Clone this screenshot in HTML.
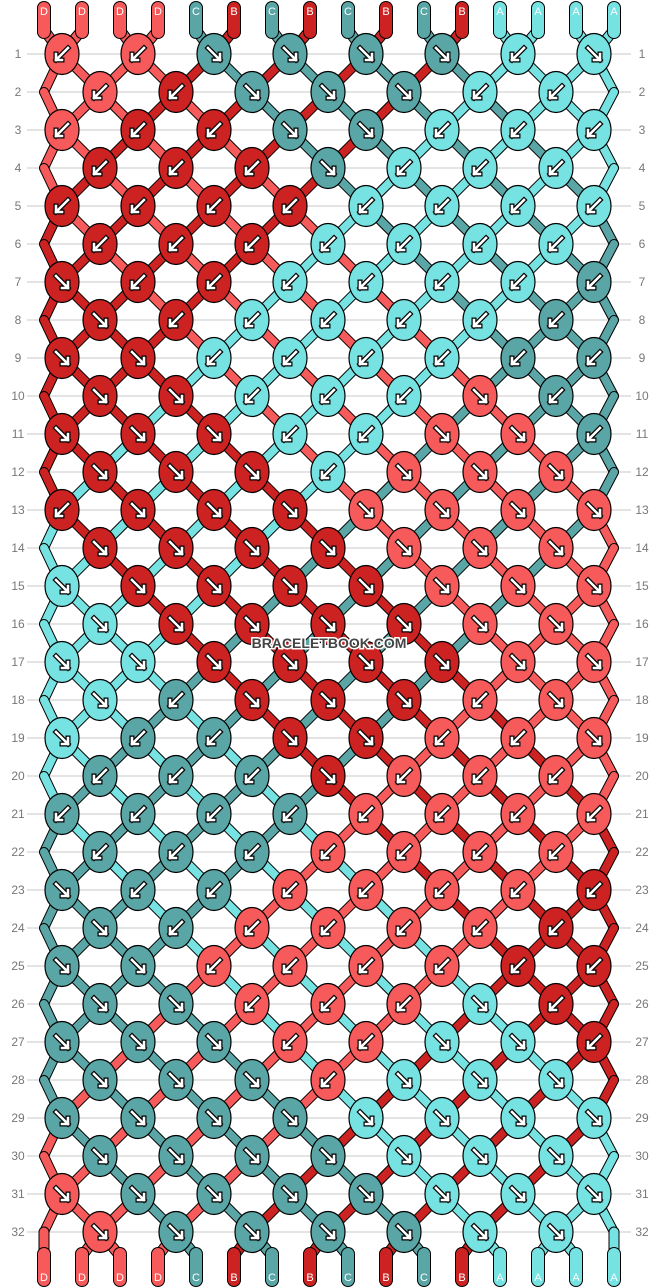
<!DOCTYPE html>
<html><head><meta charset="utf-8"><style>
body{margin:0;background:#fff;}
svg{display:block;font-family:"Liberation Sans",sans-serif;}
</style></head><body>
<svg id="chart" width="658" height="1288" viewBox="0 0 658 1288"></svg>
<script>
const initialStrings = "DDDDCBCBCBCBAAAA";
const knotColors = ["DDCCCCAA","DBCCCAA","DBBCCAAA","BBBCAAA","BBBBAAAA","BBBAAAA","BBBAAAAC","BBAAAAC",
"BBAAAACC","BBAAADC","BBBAADDC","BBBADDD","BBBBDDDD","BBBBDDD","ABBBBDDD","ABBBBDD",
"AABBBBDD","ACBBBDD","ACCBBDDD","CCCBDDD","CCCCDDDD","CCCDDDD","CCCDDDDB","CCDDDDB",
"CCDDDDBB","CCDDDAB","CCCDDAAB","CCCDAAA","CCCCAAAA","CCCCAAA","DCCCCAAA","DCCCCAA"];
const knotDirs = ["LLRRRRLR","LLRRRLL","LLLRRLLL","LLLRLLL","LLLLLLLL","LLLLLLL","RLLLLLLL","RLLLLLL",
"RRLLLLLL","RRLLLRL","RRRLLRRL","RRRLRRR","LRRRRRRR","RRRRRRR","RRRRRRRR","RRRRRRR",
"RRRRRRRR","RLRRRLR","RLLRRLLR","LLLRLLL","LLLLLLLL","LLLLLLL","RLLLLLLL","RLLLLLL",
"RRLLLLLL","RRLLLRL","RRRLLRRL","RRRLRRR","RRRRRRRR","RRRRRRR","RRRRRRRR","RRRRRRR"];
const rowLabels = knotColors.map((_,i)=>String(i+1));

const COL={D:"#f75a5a",B:"#cc2222",C:"#5aa5a5",A:"#77e2e2"};
const NS="http://www.w3.org/2000/svg";
const svg=document.getElementById("chart");
const rowY=r=>54+r*38;
const labelX=s=>44+s*38;
function strX(r,s){
  if(r%2===0) return 62+76*Math.floor(s/2);
  if(s===0) return 44; if(s===15) return 614;
  return 100+76*Math.floor((s-1)/2);
}
function el(tag,attrs,parent){const e=document.createElementNS(NS,tag);for(const k in attrs)e.setAttribute(k,attrs[k]);(parent||svg).appendChild(e);return e;}

const gGrid=el("g",{});


rowLabels.forEach((lab,r)=>{
  const y=rowY(r);
  el("line",{x1:27,x2:631,y1:y,y2:y,stroke:"#c8c8c8","stroke-width":1},gGrid);
  const t1=el("text",{x:18,y:y+4,"text-anchor":"middle","font-size":12,fill:"#777"},gGrid);t1.textContent=lab;
  
  
  const t2=el("text",{x:642,y:y+4,"text-anchor":"middle","font-size":12,fill:"#777"},gGrid);t2.textContent=lab;
  
  
});

const states=[initialStrings.split("")];
for(let r=0;r<knotColors.length;r++){
  const s=states[r].slice();
  const n=knotColors[r].length;
  for(let k=0;k<n;k++){const a=(r%2===0)?2*k:2*k+1;const t=s[a];s[a]=s[a+1];s[a+1]=t;}
  states.push(s);
}
const gStr=el("g",{"stroke-linecap":"round","stroke-linejoin":"round",fill:"none"});


function seg(x1,y1,x2,y2,c,w){
  w=w||8;
  el("line",{x1,y1,x2,y2,stroke:"#000","stroke-width":w+2},gStr);
  el("line",{x1,y1,x2,y2,stroke:COL[c],"stroke-width":w},gStr);
}
const R=knotColors.length;
for(let s=0;s<16;s++){
  const top0=states[0][s];
  seg(labelX(s),30,strX(0,s),rowY(0),top0,9);
  seg(labelX(s),8,labelX(s),32,top0,12);
  for(let r=0;r<R-1;r++) seg(strX(r,s),rowY(r),strX(r+1,s),rowY(r+1),states[r+1][s],8);
  const c=states[R][s];
  seg(strX(R-1,s),rowY(R-1),labelX(s),1256,c,9);
  seg(labelX(s),1254,labelX(s),1280,c,12);
}
const gLab=el("g",{"font-size":11,fill:"#fff","text-anchor":"middle"});
for(let s=0;s<16;s++){
  const t=el("text",{x:labelX(s),y:15},gLab);t.textContent=initialStrings[s];
  
  
  const b=el("text",{x:labelX(s),y:1281},gLab);b.textContent=states[R][s];
  
  
}
knotColors.forEach((row,r)=>{
  for(let k=0;k<row.length;k++){
    const x=(r%2===0)?62+76*k:100+76*k, y=rowY(r);
    const g=el("g",{transform:`translate(${x},${y})`});
    
    
    el("ellipse",{rx:17,ry:20.5,fill:COL[row[k]],stroke:"#000","stroke-width":1.2},g);
    const d=knotDirs[r][k]==="L"?"M6,-6 L-6,6 M-6,0 L-6,6 L0,6":"M-6,-6 L6,6 M6,0 L6,6 L0,6";
    el("path",{d,stroke:"#000","stroke-width":5,fill:"none","stroke-linecap":"square"},g);
    el("path",{d,stroke:"#fff","stroke-width":2.6,fill:"none","stroke-linecap":"square"},g);
  }
});
const wm=el("text",{x:329,y:648,"text-anchor":"middle","font-size":14,"font-weight":"bold",fill:"#444",stroke:"#fff","stroke-width":3,"paint-order":"stroke"});
wm.textContent="BRACELETBOOK.COM";


</script>
</body></html>
